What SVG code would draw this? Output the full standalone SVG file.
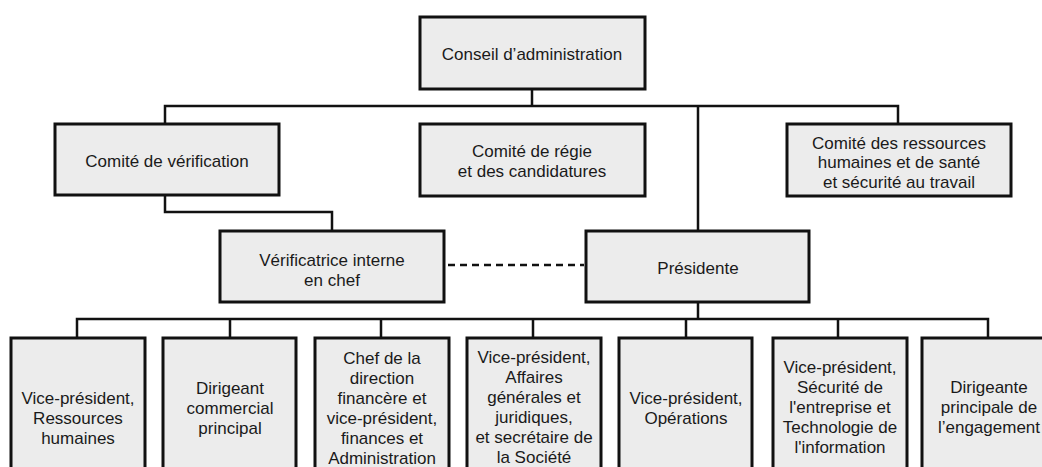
<svg xmlns="http://www.w3.org/2000/svg" width="1042" height="467" viewBox="0 0 1042 467">
<style>
.box{fill:#ececec;stroke:#111;stroke-width:3}
.ln{fill:none;stroke:#111;stroke-width:2.5}
.dash{fill:none;stroke:#111;stroke-width:2.5;stroke-dasharray:7 5}
text{font-family:"Liberation Sans",Arial,sans-serif;font-size:17px;fill:#1a1a1a;text-anchor:middle}
</style>
<rect width="1042" height="467" fill="#fff"/>
<g id="connectors">
<path class="ln" d="M532 89V106M165 124V106H898V124M698 106V231"/>
<path class="ln" d="M165 195V212H332V231"/>
<path class="dash" d="M448 265H584"/>
<path class="ln" d="M698 302V319M77 338V319H988V338M230 319V338M381 319V338M533 319V338M686 319V338M838 319V338"/>
</g>
<g id="conseil"><rect class="box" x="420" y="17" width="225" height="72"/><text x="532" y="60">Conseil d’administration</text></g>
<g id="verification"><rect class="box" x="55" y="124" width="224" height="71"/><text x="167" y="167">Comité de vérification</text></g>
<g id="regie"><rect class="box" x="420" y="124" width="225" height="72"/><text x="532" y="157">Comité de régie</text><text x="532" y="177">et des candidatures</text></g>
<g id="rh-sst"><rect class="box" x="787" y="124" width="224" height="72"/><text x="899" y="149">Comité des ressources</text><text x="899" y="168">humaines et de santé</text><text x="899" y="188">et sécurité au travail</text></g>
<g id="verificatrice"><rect class="box" x="220" y="231" width="224" height="71"/><text x="332" y="266">Vérificatrice interne</text><text x="332" y="286">en chef</text></g>
<g id="presidente"><rect class="box" x="586" y="231" width="223" height="71"/><text x="698" y="274">Présidente</text></g>
<g id="vp-rh"><rect class="box" x="11" y="338" width="134" height="135"/><text x="78" y="404">Vice-président,</text><text x="78" y="424">Ressources</text><text x="78" y="444">humaines</text></g>
<g id="dir-commercial"><rect class="box" x="163" y="338" width="133" height="135"/><text x="230" y="394">Dirigeant</text><text x="230" y="414">commercial</text><text x="230" y="434">principal</text></g>
<g id="cfo"><rect class="box" x="315" y="338" width="134" height="135"/><text x="382" y="364">Chef de la</text><text x="382" y="384">direction</text><text x="382" y="404">financère et</text><text x="382" y="424">vice-président,</text><text x="382" y="444">finances et</text><text x="382" y="464">Administration</text></g>
<g id="vp-juridique"><rect class="box" x="467" y="338" width="134" height="135"/><text x="534" y="363">Vice-président,</text><text x="534" y="383">Affaires</text><text x="534" y="403">générales et</text><text x="534" y="423">juridiques,</text><text x="534" y="443">et secrétaire de</text><text x="534" y="463">la Société</text></g>
<g id="vp-operations"><rect class="box" x="619" y="338" width="133" height="135"/><text x="686" y="404">Vice-président,</text><text x="686" y="424">Opérations</text></g>
<g id="vp-securite"><rect class="box" x="773" y="338" width="134" height="135"/><text x="840" y="373">Vice-président,</text><text x="840" y="393">Sécurité de</text><text x="840" y="413">l'entreprise et</text><text x="840" y="433">Technologie de</text><text x="840" y="453">l'information</text></g>
<g id="dir-engagement"><rect class="box" x="922" y="338" width="134" height="135"/><text x="989" y="393">Dirigeante</text><text x="989" y="413">principale de</text><text x="989" y="433">l’engagement</text></g>
</svg>
